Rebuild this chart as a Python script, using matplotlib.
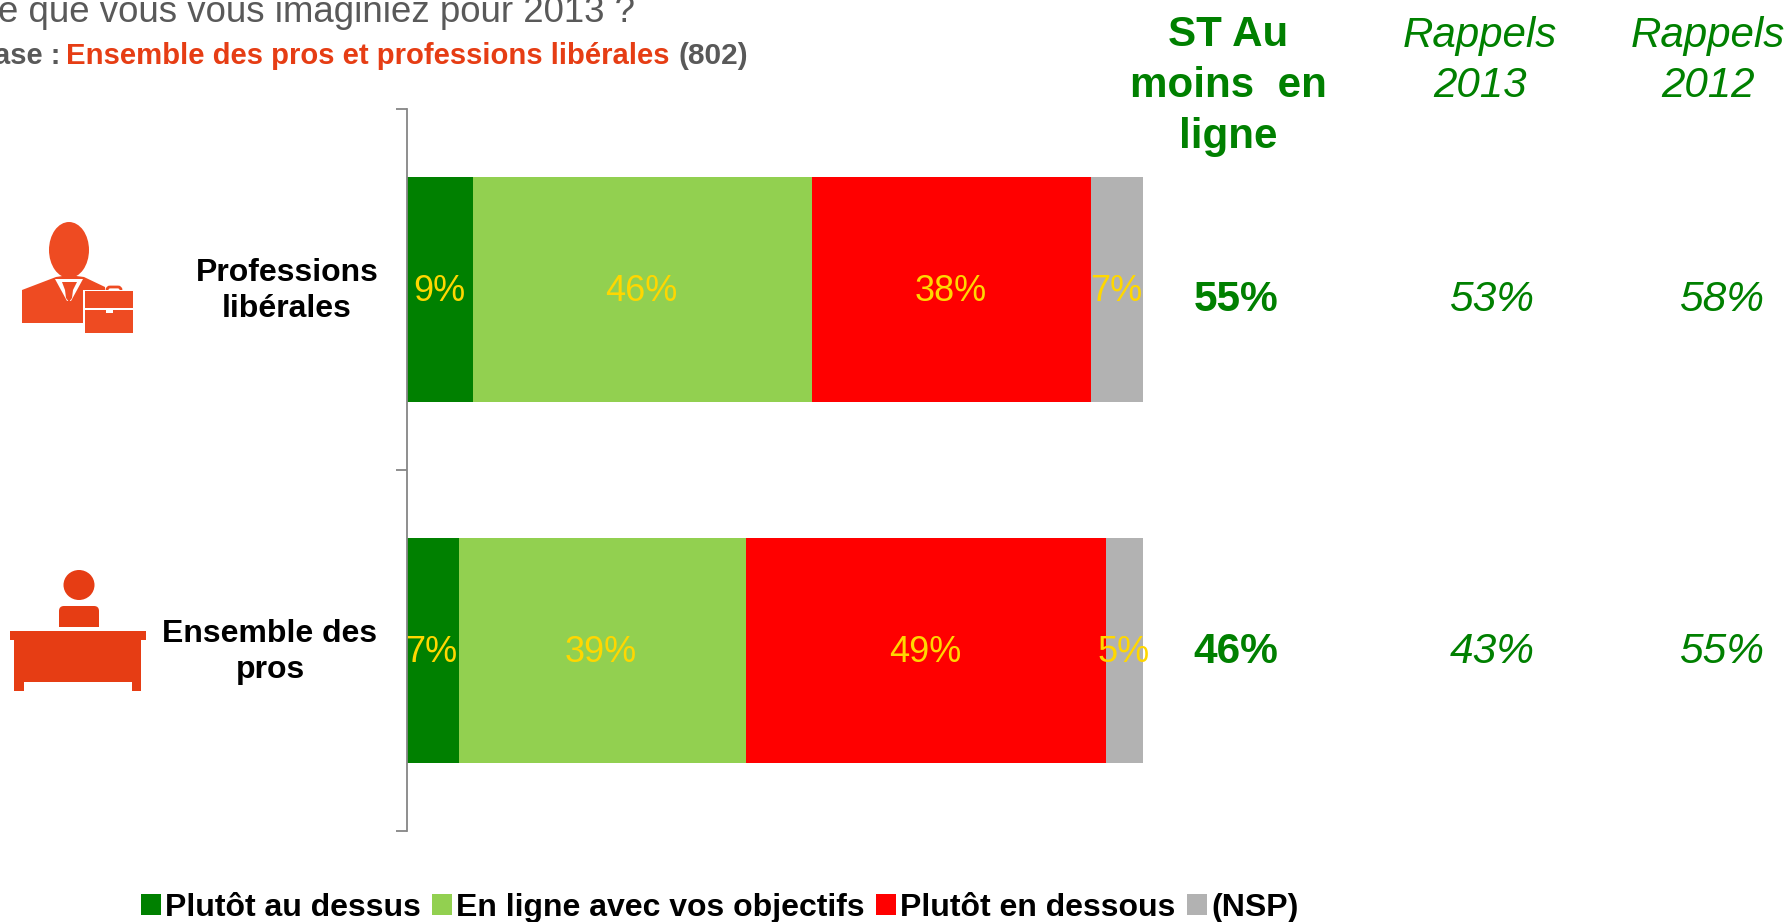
import matplotlib
matplotlib.use('Agg')
import matplotlib.pyplot as plt
from matplotlib.patches import Rectangle, Ellipse, Polygon, FancyBboxPatch
import numpy as np

W, H = 1789, 922

plt.rcParams['font.family'] = ['Liberation Sans', 'DejaVu Sans']

categories = ['Professions\nlibérales', 'Ensemble des\npros']
series_names = ['Plutôt au dessus', 'En ligne avec vos objectifs', 'Plutôt en dessous', '(NSP)']
au_dessus = [9, 7]
en_ligne = [46, 39]
en_dessous = [38, 49]
nsp = [7, 5]
st_au_moins = ['55%', '46%']
rappels_2013 = ['53%', '43%']
rappels_2012 = ['58%', '55%']

colors = ['#008000', '#92D050', '#FF0000', '#B2B2B2']
GREEN = '#008000'
ORANGE = '#E63D14'
GREY = '#595959'
YELLOW = '#FFD700'

fig = plt.figure(figsize=(W/100, H/100), dpi=100)

# chart axes, pixel box of the reference
left, right, top, bottom = 407, 1143, 109, 831
ax = fig.add_axes([left/W, 1 - bottom/H, (right - left)/W, (bottom - top)/H])

y = np.arange(len(categories))
base = np.zeros(len(categories))
for name, vals, c in zip(series_names, [au_dessus, en_ligne, en_dessous, nsp], colors):
	vals = np.array(vals, dtype=float)
	ax.barh(y, vals, left=base, height=0.623, color=c, label=name, zorder=2)
	for yi, b, v in zip(y, base, vals):
		ax.text(b + v/2 - 0.15, yi + 0.006, '%d%%' % v, color=YELLOW, fontsize=26, ha='center', va='center', zorder=3)
	base += vals

ax.set_xlim(0, 100)
ax.set_ylim(1.5, -0.5)
ax.set_xticks([])
ax.set_yticks([-0.5, 0.5, 1.5])
ax.set_yticklabels([])
ax.tick_params(axis='y', length=8, width=1.3, color='#868686')
for s in ['top', 'right', 'bottom']:
	ax.spines[s].set_visible(False)
ax.spines['left'].set_color('#868686')
ax.spines['left'].set_linewidth(1.3)
ax.patch.set_alpha(0)

# overlay in pixels for the texts and the icons around the chart
ov = fig.add_axes([0, 0, 1, 1], zorder=-1)
ov.set_xlim(0, W)
ov.set_ylim(H, 0)
ov.axis('off')

ov.text(-2, 22, 'e que vous vous imaginiez pour 2013 ?', color=GREY, fontsize=26.4, va='baseline')
ov.text(-6, 64, 'ase : ', color=GREY, fontsize=21, fontweight='bold', va='baseline')
ov.text(66, 64, 'Ensemble des pros et professions libérales', color=ORANGE, fontsize=21.1, fontweight='bold', va='baseline')
ov.text(678, 64, '(802)', color=GREY, fontsize=21.5, fontweight='bold', va='baseline')

ov.text(287, 291, categories[0], fontsize=23, fontweight='bold', ha='center', va='center', linespacing=1.27)
ov.text(270, 652, categories[1], fontsize=23, fontweight='bold', ha='center', va='center', linespacing=1.27)

# right columns
ov.text(1228, 86, 'ST Au\nmoins  en\nligne', color=GREEN, fontsize=30.3, fontweight='bold', ha='center', va='center', linespacing=1.35)
ov.text(1480, 61, 'Rappels\n2013', color=GREEN, fontsize=30.3, style='italic', ha='center', va='center', linespacing=1.3)
ov.text(1708, 61, 'Rappels\n2012', color=GREEN, fontsize=30.3, style='italic', ha='center', va='center', linespacing=1.3)
row_y = [299.5, 651.5]
for yy, a, b, c in zip(row_y, st_au_moins, rappels_2013, rappels_2012):
	ov.text(1236, yy, a, color=GREEN, fontsize=30.6, fontweight='bold', ha='center', va='center')
	ov.text(1492, yy, b, color=GREEN, fontsize=30.6, style='italic', ha='center', va='center')
	ov.text(1722, yy, c, color=GREEN, fontsize=30.6, style='italic', ha='center', va='center')

# person with briefcase
PERSON = '#EE4B22'
ov.add_patch(Polygon([(22, 323), (22, 290), (56, 277), (69, 275), (84, 277), (105, 287), (105, 323)], color=PERSON, lw=0))
ov.add_patch(Polygon([(55, 279), (83, 279), (71, 301), (67, 301)], color='white', lw=0))
ov.add_patch(Ellipse((69, 250), 40, 56, color=PERSON, lw=0))
ov.add_patch(Polygon([(62, 282), (77, 282), (73, 290), (72, 298), (69, 302), (66, 298), (65, 290)], color=PERSON, lw=0))
ov.add_patch(FancyBboxPatch((107, 287), 14, 10, boxstyle='round,pad=0,rounding_size=3', fc='none', ec=PERSON, lw=2))
ov.add_patch(Rectangle((83, 290), 52, 45, color='white', lw=0))
ov.add_patch(Rectangle((85, 291), 48, 42, color=PERSON, lw=0))
ov.add_patch(Rectangle((85, 308), 48, 2, color='white', lw=0))
ov.add_patch(Rectangle((106, 308), 7, 5, color='white', lw=0))

# person at desk
DESK = '#E63D14'
ov.add_patch(Ellipse((79, 585), 31, 30, color=DESK, lw=0))
ov.add_patch(FancyBboxPatch((59, 606), 40, 21, boxstyle='round,pad=0,rounding_size=5', color=DESK, lw=0))
ov.add_patch(Rectangle((59, 615), 40, 12, color=DESK, lw=0))
ov.add_patch(Rectangle((10, 631), 136, 9, color=DESK, lw=0))
ov.add_patch(Rectangle((14, 640), 127, 42, color=DESK, lw=0))
ov.add_patch(Rectangle((14, 682), 10, 9, color=DESK, lw=0))
ov.add_patch(Rectangle((132, 682), 9, 9, color=DESK, lw=0))

handles, labels = ax.get_legend_handles_labels()
leg = fig.legend(handles, labels, ncol=4, frameon=False, prop={'size': 23, 'weight': 'bold'},
	loc='center left', bbox_to_anchor=(141/W, 1 - 908/H), bbox_transform=fig.transFigure,
	handlelength=0.62, handleheight=0.62, handletextpad=0.12, columnspacing=0.37, borderaxespad=0, borderpad=0)

plt.savefig('out.png', dpi=100)
plt.close()
